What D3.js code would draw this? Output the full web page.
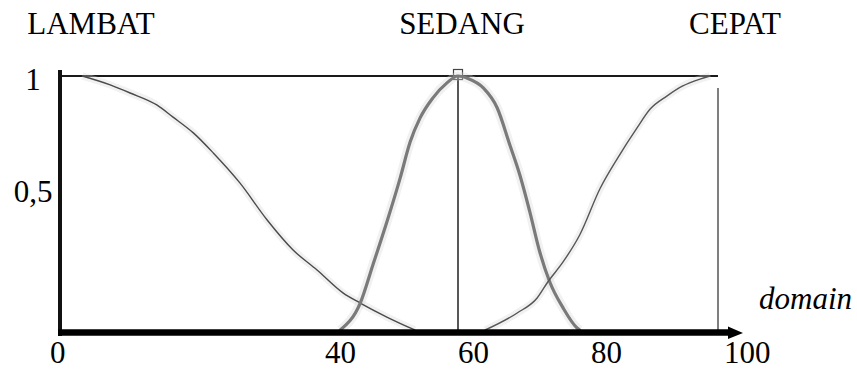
<!DOCTYPE html>
<html>
<head>
<meta charset="utf-8">
<script src="https://cdn.jsdelivr.net/npm/d3@7"></script>
<style>
  html, body { margin: 0; padding: 0; background: #fff; }
  svg { display: block; }
  text { font-family: "Liberation Serif", "Times New Roman", serif; fill: #000; }
</style>
</head>
<body>
<svg id="chart" width="857" height="370"></svg>
<script>
// Fuzzy sets over the domain 0..100
const setNames = ["LAMBAT", "SEDANG", "CEPAT"];
const domainTicks = [0, 40, 60, 80, 100];
const degreeTicks = [1, 0.5];
const degreeTickLabels = ["1", "0,5"];
const axisTitle = "domain";

// Membership degree sampled along the domain for each set
const lambatX = [3.5, 7.7, 10.7, 14.7, 17.1, 20.2, 23.2, 27.2, 31.3, 35.2, 38.8, 42.7, 45.3, 49.3, 53.5];
const lambatY = [1, 0.965, 0.933, 0.886, 0.839, 0.776, 0.697, 0.579, 0.433, 0.315, 0.236, 0.146, 0.106, 0.051, 0];

const sedangX = [42.3, 45.3, 47.2, 49.3, 51.3, 52.8, 54.3, 56.2, 58.3, 60, 61.5, 63.8, 65.9, 67.8, 69.3, 70.8, 72.3, 73.8, 75.8, 77.9, 78.3];
const sedangY = [0, 0.106, 0.256, 0.425, 0.598, 0.74, 0.835, 0.913, 0.972, 1, 0.99, 0.953, 0.874, 0.728, 0.61, 0.465, 0.307, 0.189, 0.087, 0.008, 0];

const cepatX = [64.1, 68.9, 71.9, 73.5, 75.8, 78.3, 81.4, 84.1, 86.9, 88.9, 91.4, 93.8, 96.4, 97.9];
const cepatY = [0, 0.067, 0.126, 0.189, 0.268, 0.374, 0.559, 0.681, 0.795, 0.87, 0.921, 0.961, 0.988, 1];

const svg = d3.select("#chart");

const x = d3.scaleLinear().domain([0, 100]).range([59, 724]);
const y = d3.scaleLinear().domain([0, 1]).range([330, 76]);
// baseline positions for the degree labels on the left
const yLabel = d3.scaleLinear().domain([0, 1]).range([314, 90]);
const frameRight = x(100) - 6;

const zip = (xs, ys) => xs.map((v, i) => [v, ys[i]]);
const line = d3.line().x(d => x(d[0])).y(d => y(d[1])).curve(d3.curveMonotoneX);

// frame: top line at degree 1 and right edge
svg.append("line")
  .attr("x1", x(0) - 1).attr("x2", frameRight)
  .attr("y1", y(1)).attr("y2", y(1))
  .attr("stroke", "#1a1a1a").attr("stroke-width", 2);

svg.append("line")
  .attr("x1", frameRight).attr("x2", frameRight)
  .attr("y1", y(1) + 12).attr("y2", y(0) + 2)
  .attr("stroke", "#555").attr("stroke-width", 1.5);

// marker at the peak of SEDANG
svg.append("line")
  .attr("x1", x(60)).attr("x2", x(60))
  .attr("y1", y(1)).attr("y2", y(0) + 2)
  .attr("stroke", "#111").attr("stroke-width", 1.4);

svg.append("rect")
  .attr("x", x(60) - 4.5).attr("y", y(1) - 6.5)
  .attr("width", 9).attr("height", 10)
  .attr("fill", "none").attr("stroke", "#444").attr("stroke-width", 1.2);

// membership curves
const curves = [
  { pts: zip(lambatX, lambatY), color: "#4a4a4a", width: 1.4 },
  { pts: zip(sedangX, sedangY), color: "#7a7a7a", width: 3.2 },
  { pts: zip(cepatX, cepatY), color: "#555", width: 1.4 }
];

// soft halo under each curve
svg.selectAll("path.halo").data(curves).join("path")
  .attr("class", "halo")
  .attr("d", d => line(d.pts))
  .attr("fill", "none")
  .attr("stroke", "#d8d8d8")
  .attr("stroke-opacity", 0.35)
  .attr("stroke-width", d => d.width + 6);

svg.selectAll("path.curve").data(curves).join("path")
  .attr("class", "curve")
  .attr("d", d => line(d.pts))
  .attr("fill", "none")
  .attr("stroke", d => d.color)
  .attr("stroke-width", d => d.width)
  .attr("stroke-linejoin", "round")
  .attr("stroke-linecap", "round");

// left axis
svg.append("line")
  .attr("x1", x(0) + 1).attr("x2", x(0) + 1)
  .attr("y1", y(1) - 6).attr("y2", y(0) + 6)
  .attr("stroke", "#111").attr("stroke-width", 4);

// bottom axis with arrow
const axisY = y(0) + 2.5;
const arrowEnd = x(100) + 19;
svg.append("line")
  .attr("x1", x(0) - 1).attr("x2", arrowEnd - 12)
  .attr("y1", axisY).attr("y2", axisY)
  .attr("stroke", "#000").attr("stroke-width", 6.5);

svg.append("path")
  .attr("d", d3.line()([[arrowEnd - 15, axisY - 6], [arrowEnd, axisY + 0.5], [arrowEnd - 15, axisY + 6.5]]) + "Z")
  .attr("fill", "#000");

// domain tick labels
svg.selectAll("text.xtick").data(domainTicks).join("text")
  .attr("class", "xtick")
  .attr("x", d => x(d) - (d === 0 ? 9 : 0))
  .attr("y", 363)
  .attr("font-size", 31)
  .text(d => d);

// degree tick labels
svg.selectAll("text.ytick").data(degreeTicks).join("text")
  .attr("class", "ytick")
  .attr("x", x(0) - 26)
  .attr("y", d => yLabel(d))
  .attr("text-anchor", "middle")
  .attr("font-size", 31)
  .text((d, i) => degreeTickLabels[i]);

// axis title
svg.append("text")
  .attr("x", 852).attr("y", 309)
  .attr("text-anchor", "end")
  .attr("font-size", 31)
  .attr("font-style", "italic")
  .text(axisTitle);

// set names above the frame
const titleCenters = [x(0) + 32, x(60) + 4, x(100) + 11];
svg.selectAll("text.setname").data(setNames).join("text")
  .attr("class", "setname")
  .attr("x", (d, i) => titleCenters[i])
  .attr("y", 34)
  .attr("text-anchor", "middle")
  .attr("font-size", 31)
  .text(d => d);
</script>
</body>
</html>
